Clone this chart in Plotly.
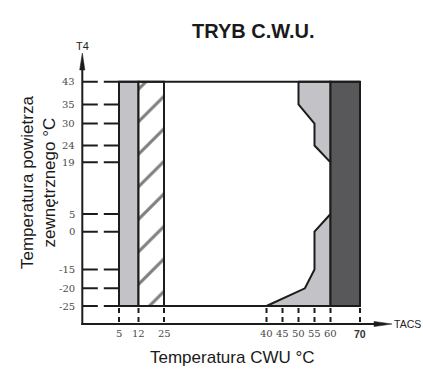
import numpy as np
import plotly.graph_objects as go

# ---------------- data ----------------
X_TICKS = [5, 12, 25, 40, 45, 50, 55, 60, 70]
X_TICK_LABELS = ["5", "12", "25", "40", "45", "50", "55", "60", "<b>70</b>"]
Y_TICKS = [-25, -20, -15, 0, 5, 19, 24, 30, 35, 43]
Y_TICK_LABELS = ["-25", "-20", "-15", "0", "5", "19", "24", "30", "35", "43"]

T4_MIN, T4_MAX = -25, 43          # outdoor temperature range
LEFT_BAND = [5, 12]               # light grey zone
HATCH_BAND = [12, 25]             # hatched zone
DARK_BAND = [60, 70]              # dark zone
LIMIT_X = [50, 50, 55, 55, 60, 60, 55, 55, 52, 40]   # right light zone boundary
LIMIT_Y = [43, 35, 30, 24, 19, 5, 0, -15, -20, -25]

# ---------------- non-linear axis scale (layout positions of tick values) ----------------
X_POS = [119, 138.5, 164, 266.5, 282.5, 298.5, 314.5, 330.5, 360]
Y_POS = [306, 288.3, 269.5, 231.7, 214, 162.3, 145.5, 123.5, 104.5, 81.7]
ORIGIN = (82.3, 324)
X_ARROW_END = 392
Y_ARROW_END = 53

W, H = 423, 369
LIGHT = "#c3c3c7"
DARK = "#58585a"
INK = "#1c1c1c"


def sx(v):
    return np.interp(np.asarray(v, dtype=float), X_TICKS, X_POS)


def sy(v):
    return np.interp(np.asarray(v, dtype=float), Y_TICKS, Y_POS)


def rect(x0, x1, y0, y1):
    xs = sx([x0, x1, x1, x0, x0])
    ys = sy([y0, y0, y1, y1, y0])
    return xs, ys


fig = go.Figure()

# light band
xs, ys = rect(LEFT_BAND[0], LEFT_BAND[1], T4_MIN, T4_MAX)
fig.add_trace(go.Scatter(x=xs, y=ys, fill="toself", fillcolor=LIGHT, mode="lines",
                         line=dict(color=INK, width=2), hoverinfo="skip"))

# hatched band
xs, ys = rect(HATCH_BAND[0], HATCH_BAND[1], T4_MIN, T4_MAX)
fig.add_trace(go.Scatter(x=xs, y=ys, fill="toself", fillcolor="white", mode="lines",
                         fillpattern=dict(shape="/", size=23, solidity=0.13,
                                          fgcolor="#000000", bgcolor="white"),
                         line=dict(color=INK, width=2), hoverinfo="skip"))

# right light zone
px = list(LIMIT_X) + [DARK_BAND[0], DARK_BAND[0], LIMIT_X[0]]
py = list(LIMIT_Y) + [T4_MIN, T4_MAX, LIMIT_Y[0]]
fig.add_trace(go.Scatter(x=sx(px), y=sy(py), fill="toself", fillcolor=LIGHT, mode="lines",
                         line=dict(color=INK, width=2), hoverinfo="skip"))

# dark band
xs, ys = rect(DARK_BAND[0], DARK_BAND[1], T4_MIN, T4_MAX)
fig.add_trace(go.Scatter(x=xs, y=ys, fill="toself", fillcolor=DARK, mode="lines",
                         line=dict(color=INK, width=2), hoverinfo="skip"))

shapes = []
# top & bottom limit lines
for t in (T4_MIN, T4_MAX):
    shapes.append(dict(type="line", xref="x", yref="y",
                       x0=float(sx(LEFT_BAND[0])), x1=float(sx(DARK_BAND[1])),
                       y0=float(sy(t)), y1=float(sy(t)),
                       line=dict(color=INK, width=2)))
# horizontal dashed guides
for t in Y_TICKS:
    shapes.append(dict(type="line", xref="x", yref="y",
                       x0=ORIGIN[0], x1=float(sx(LEFT_BAND[0])),
                       y0=float(sy(t)), y1=float(sy(t)),
                       line=dict(color=INK, width=2, dash="15.5px,6px")))
# vertical dashed guides
for v in X_TICKS:
    shapes.append(dict(type="line", xref="x", yref="y",
                       x0=float(sx(v)), x1=float(sx(v)),
                       y0=float(sy(T4_MIN)) + 2, y1=ORIGIN[1],
                       line=dict(color=INK, width=2, dash="5px,4px")))
# axes
shapes.append(dict(type="line", xref="x", yref="y", x0=ORIGIN[0], x1=ORIGIN[0],
                   y0=ORIGIN[1] + 1, y1=Y_ARROW_END + 10, line=dict(color=INK, width=2)))
shapes.append(dict(type="line", xref="x", yref="y", x0=ORIGIN[0] - 1, x1=X_ARROW_END - 10,
                   y0=ORIGIN[1], y1=ORIGIN[1], line=dict(color=INK, width=2)))
# arrow heads
ox, oy = ORIGIN
shapes.append(dict(type="path", xref="x", yref="y",
                   path=f"M{ox-2.6},{Y_ARROW_END+17} L{ox},{Y_ARROW_END} L{ox+2.6},{Y_ARROW_END+17} Z",
                   fillcolor=INK, line=dict(color=INK, width=0.5)))
shapes.append(dict(type="path", xref="x", yref="y",
                   path=f"M{X_ARROW_END-18},{oy-2.6} L{X_ARROW_END},{oy} L{X_ARROW_END-18},{oy+2.6} Z",
                   fillcolor=INK, line=dict(color=INK, width=0.5)))

ann = []
tick_font = dict(family="'DejaVu Serif', serif", size=10, color="#4a4a4a")
for v, lab in zip(Y_TICKS, Y_TICK_LABELS):
    ann.append(dict(x=77, y=float(sy(v)), xref="x", yref="y", text=lab, showarrow=False,
                    xanchor="right", yanchor="middle", font=tick_font))
for v, lab in zip(X_TICKS, X_TICK_LABELS):
    f = tick_font if not lab.startswith("<b>") else dict(family="Liberation Sans", size=10.5, color="#333")
    ann.append(dict(x=float(sx(v)), y=333.5, xref="x", yref="y", text=lab, showarrow=False,
                    xanchor="center", yanchor="middle", font=f))

ann.append(dict(x=ox, y=46, xref="x", yref="y", text="T4", showarrow=False,
                xanchor="center", yanchor="middle",
                font=dict(family="Liberation Sans", size=11, color="#222")))
ann.append(dict(x=X_ARROW_END, y=oy - 0.5, xref="x", yref="y", text="TACS", showarrow=False,
                xanchor="left", yanchor="middle",
                font=dict(family="Liberation Sans", size=10.5, color="#222")))
ann.append(dict(x=253, y=31, xref="x", yref="y", text="<b>TRYB C.W.U.</b>", showarrow=False,
                xanchor="center", yanchor="middle",
                font=dict(family="Liberation Sans", size=20, color="#1a1a1a")))
ann.append(dict(x=232.5, y=357, xref="x", yref="y", text="Temperatura CWU °C", showarrow=False,
                xanchor="center", yanchor="middle",
                font=dict(family="Liberation Sans", size=17, color="#1a1a1a")))
ann.append(dict(x=38, y=183, xref="x", yref="y", text="Temperatura powietrza<br>zewnętrznego °C",
                showarrow=False, textangle=-90, xanchor="center", yanchor="middle",
                font=dict(family="Liberation Sans", size=17, color="#1a1a1a")))

fig.update_layout(
    width=W, height=H, autosize=False,
    margin=dict(l=0, r=0, t=0, b=0, pad=0),
    paper_bgcolor="white", plot_bgcolor="white",
    showlegend=False,
    xaxis=dict(range=[0, W], visible=False, fixedrange=True),
    yaxis=dict(range=[H, 0], visible=False, fixedrange=True),
    shapes=shapes, annotations=ann,
)

fig.write_html("out.html", config={"displayModeBar": False, "staticPlot": True},
               post_script="document.body.style.margin='0';document.body.style.overflow='hidden';")
